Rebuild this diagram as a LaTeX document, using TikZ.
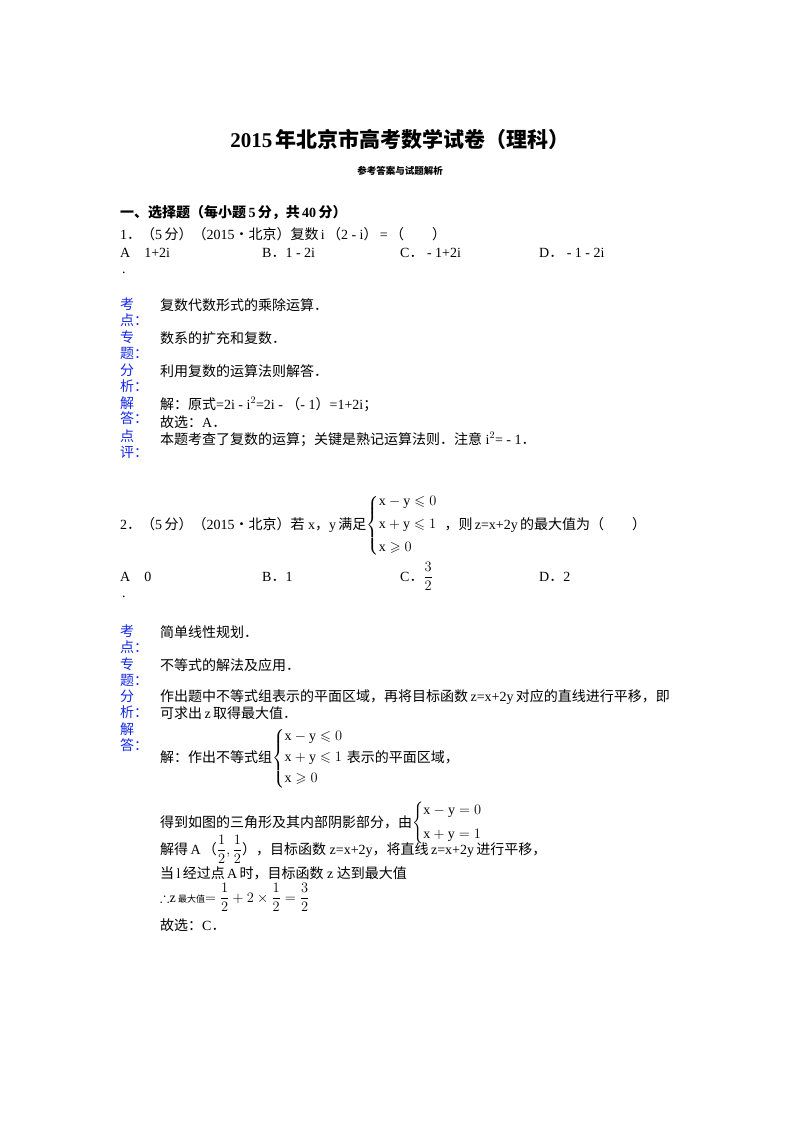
\documentclass[tikz,border=0pt]{standalone}
\usepackage{amsmath,amssymb}
\usepackage{fontspec}
\setmainfont{Liberation Serif}
\newfontfamily\zhf{Noto Sans CJK SC}
\newcommand{\zh}[1]{{\zhf #1}}
\newcommand{\LP}{{\zhf （}}
\newcommand{\RP}{{\zhf ）}}
\newcommand{\CM}{{\zhf ，}}
\newcommand{\PD}{{\zhf ．}}
\definecolor{lblue}{RGB}{20,40,230}
\begin{document}
\begin{tikzpicture}[x=1pt,y=-1pt,
  t/.style={anchor=base west,inner sep=0pt,font=\fontsize{14}{16}\selectfont},
  lb/.style={t,text=lblue}]
\useasboundingbox (0,0) rectangle (800,1132);
\node[anchor=base,inner sep=0pt,font=\fontsize{21}{24}\selectfont\bfseries] (title) at (400,147) {2015\,\zh{\bfseries 年北京市高考数学试卷（理科）}};
\node[anchor=base,inner sep=0pt,font=\fontsize{9.5}{11}\selectfont] (sub) at (400,174) {\zh{\bfseries 参考答案与试题解析}};
\node[t,font=\fontsize{14}{16}\selectfont\bfseries] (sec) at (120,217) {\zh{\bfseries 一、选择题（每小题}\,5\,\zh{\bfseries 分，共}\,40\,\zh{\bfseries 分）}};
\node[t] (q1) at (120,239) {1\PD\LP 5\,\zh{分}\RP\LP 2015\zh{•北京}\RP\zh{复数}\,i\,\LP 2 - i\RP\,=\,\LP\qquad\RP};
\node[t] (a1) at (120,257) {A\quad 1+2i};
\node[t] (d1) at (122,273) {.};
\node[t] (b1) at (262,257) {B\PD 1 - 2i};
\node[t] (c1) at (400,257) {C\PD\ - 1+2i};
\node[t] (e1) at (539,257) {D\PD\ - 1 - 2i};
\foreach \s/\y in {考/309,点：/325,专/342,题：/358,分/375,析：/391,解/408,答：/423,点/441,评：/457}
  \node[lb] at (120,\y) {\zh{\s}};
\node[t] (k1) at (160,310) {\zh{复数代数形式的乘除运算．}};
\node[t] (z1) at (160,343) {\zh{数系的扩充和复数．}};
\node[t] (f1) at (160,376) {\zh{利用复数的运算法则解答．}};
\node[t] (j1) at (160,409) {\zh{解：原式}=2i - i$^2$=2i - \LP - 1\RP =1+2i\zh{；}};
\node[t] (j1b) at (160,427) {\zh{故选：}A\PD};
\node[t] (p1) at (160,444) {\zh{本题考查了复数的运算；关键是熟记运算法则．注意} i$^2$= - 1\PD};
% Q2
\node[t] (q2) at (120,529) {2\PD\LP 5\,\zh{分}\RP\LP 2015\zh{•北京}\RP\zh{若} x\CM y\,\zh{满足}$\left\{\begin{array}{@{}l@{}}\mathrm{x}-\mathrm{y}\leqslant 0\\[7pt] \mathrm{x}+\mathrm{y}\leqslant 1\\[7pt] \mathrm{x}\geqslant 0\end{array}\right.$\ \ \CM\zh{则}\,z=x+2y\,\zh{的最大值为}\LP\qquad\RP};
\node[t] (a2) at (120,581) {A\quad 0};
\node[t] (d2) at (122,597) {.};
\node[t] (b2) at (262,581) {B\PD 1};
\node[t] (c2) at (400,581) {C\PD$\dfrac{3}{2}$};
\node[t] (e2) at (539,581) {D\PD 2};
\foreach \s/\y in {考/636,点：/652,专/669,题：/685,分/701,析：/717,解/734,答：/750}
  \node[lb] at (120,\y) {\zh{\s}};
\node[t] (k2) at (160,637) {\zh{简单线性规划．}};
\node[t] (z2) at (160,670) {\zh{不等式的解法及应用．}};
\node[t] (f2) at (160,701) {\zh{作出题中不等式组表示的平面区域，再将目标函数}\,z=x+2y\,\zh{对应的直线进行平移，即}};
\node[t] (f2b) at (160,718) {\zh{可求出}\,z\,\zh{取得最大值．}};
\node[t] (j2) at (160,762) {\zh{解：作出不等式组}$\left\{\begin{array}{@{}l@{}}\mathrm{x}-\mathrm{y}\leqslant 0\\[5pt] \mathrm{x}+\mathrm{y}\leqslant 1\\[5pt] \mathrm{x}\geqslant 0\end{array}\right.$\ \zh{表示的平面区域，}};
\node[t] (j2b) at (160,827) {\zh{得到如图的三角形及其内部阴影部分，由}$\left\{\begin{array}{@{}l@{}}\mathrm{x}-\mathrm{y}=0\\[8pt] \mathrm{x}+\mathrm{y}=1\end{array}\right.$};
\node[t] (j2c) at (160,854) {\zh{解得}\,A\,\LP$\dfrac{1}{2},\dfrac{1}{2}$\RP\CM\zh{目标函数} z=x+2y\CM\zh{将直线}\,z=x+2y\,\zh{进行平移，}};
\node[t] (j2d) at (160,878) {\zh{当}\,l\,\zh{经过点}\,A\,\zh{时，目标函数} z \zh{达到最大值}};
\node[t] (j2e) at (160,902) {$\therefore$z\,{\fontsize{9}{10}\selectfont\zh{最大值}}$=\dfrac{1}{2}+2\times\dfrac{1}{2}=\dfrac{3}{2}$};
\node[t] (j2f) at (160,930) {\zh{故选：}C\PD};
\end{tikzpicture}
\end{document}
